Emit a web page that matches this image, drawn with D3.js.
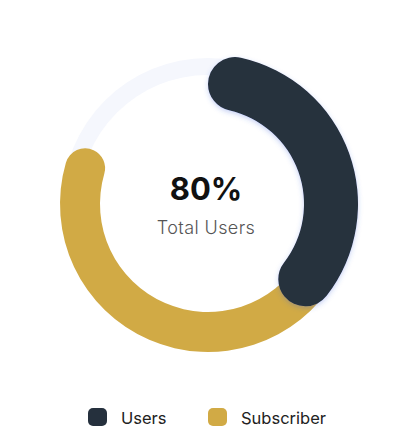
<!DOCTYPE html>
<html>
<head>
<meta charset="utf-8">
<script src="https://cdn.jsdelivr.net/npm/d3@7"></script>
<style>
  html, body { margin: 0; padding: 0; background: #ffffff; }
  svg { display: block; }
</style>
</head>
<body>
<svg id="chart" width="418" height="428"></svg>
<script>
// ---- data ----
const categories = ["Users", "Subscriber"];
const values = [39, 43];            // share of the full ring (percent)
const colors = ["#25303d", "#d1aa45"];
const centerValue = "80%";
const centerLabel = "Total Users";
const ringMax = 100;

// ---- layout ----
const cx = 208, cy = 204;
const svg = d3.select("#chart");

const defs = svg.append("defs");
const f = defs.append("filter").attr("id", "shadow")
  .attr("x", "-30%").attr("y", "-30%").attr("width", "160%").attr("height", "160%");
f.append("feDropShadow").attr("dx", 0).attr("dy", 2).attr("stdDeviation", 2.5)
  .attr("flood-color", "#3d5bd9").attr("flood-opacity", 0.28);

const angle = d3.scaleLinear().domain([0, ringMax]).range([0, 2 * Math.PI]);

const g = svg.append("g").attr("transform", `translate(${cx},${cy})`);

// track
g.append("path")
  .attr("d", d3.arc().innerRadius(129).outerRadius(146).startAngle(0).endAngle(2 * Math.PI)())
  .attr("fill", "#f5f7fd");

const radii = [{ inner: 96, outer: 150 }, { inner: 108, outer: 148 }];
const usersEnd = values[0];
const subEnd = values[0] + values[1];

// Subscriber (drawn first, tucked under the Users cap)
const arcSub = d3.arc()
  .innerRadius(radii[1].inner).outerRadius(radii[1].outer)
  .cornerRadius((radii[1].outer - radii[1].inner) / 2);
g.append("path")
  .attr("d", arcSub({ startAngle: angle(usersEnd - 8), endAngle: angle(subEnd) }))
  .attr("fill", colors[1]);

// Users
const arcUsers = d3.arc()
  .innerRadius(radii[0].inner).outerRadius(radii[0].outer)
  .cornerRadius((radii[0].outer - radii[0].inner) / 2);
g.append("path")
  .attr("d", arcUsers({ startAngle: angle(0), endAngle: angle(usersEnd) }))
  .attr("fill", colors[0])
  .attr("filter", "url(#shadow)");

// center text
g.append("text")
  .attr("x", -2).attr("y", -4)
  .attr("text-anchor", "middle")
  .attr("font-family", "Inter, 'DejaVu Sans', sans-serif")
  .attr("font-weight", 700)
  .attr("font-size", 31)
  .attr("fill", "#111111")
  .text(centerValue);

g.append("text")
  .attr("x", -2).attr("y", 30)
  .attr("text-anchor", "middle")
  .attr("font-family", "Inter, 'Open Sans', sans-serif")
  .attr("font-weight", 300)
  .attr("font-size", 18)
  .attr("letter-spacing", 0.4)
  .attr("fill", "#555555")
  .text(centerLabel);

// legend
const legendX = [88, 208];
const legend = svg.append("g");
categories.forEach((c, i) => {
  const lg = legend.append("g").attr("transform", `translate(${legendX[i]},408)`);
  lg.append("rect").attr("width", 19).attr("height", 18).attr("rx", 5)
    .attr("fill", colors[i]);
  lg.append("text").attr("x", 33).attr("y", 15.5)
    .attr("font-family", "Inter, 'Open Sans', sans-serif")
    .attr("font-size", 16.5)
    .attr("fill", "#222222")
    .text(c);
});
</script>
</body>
</html>
